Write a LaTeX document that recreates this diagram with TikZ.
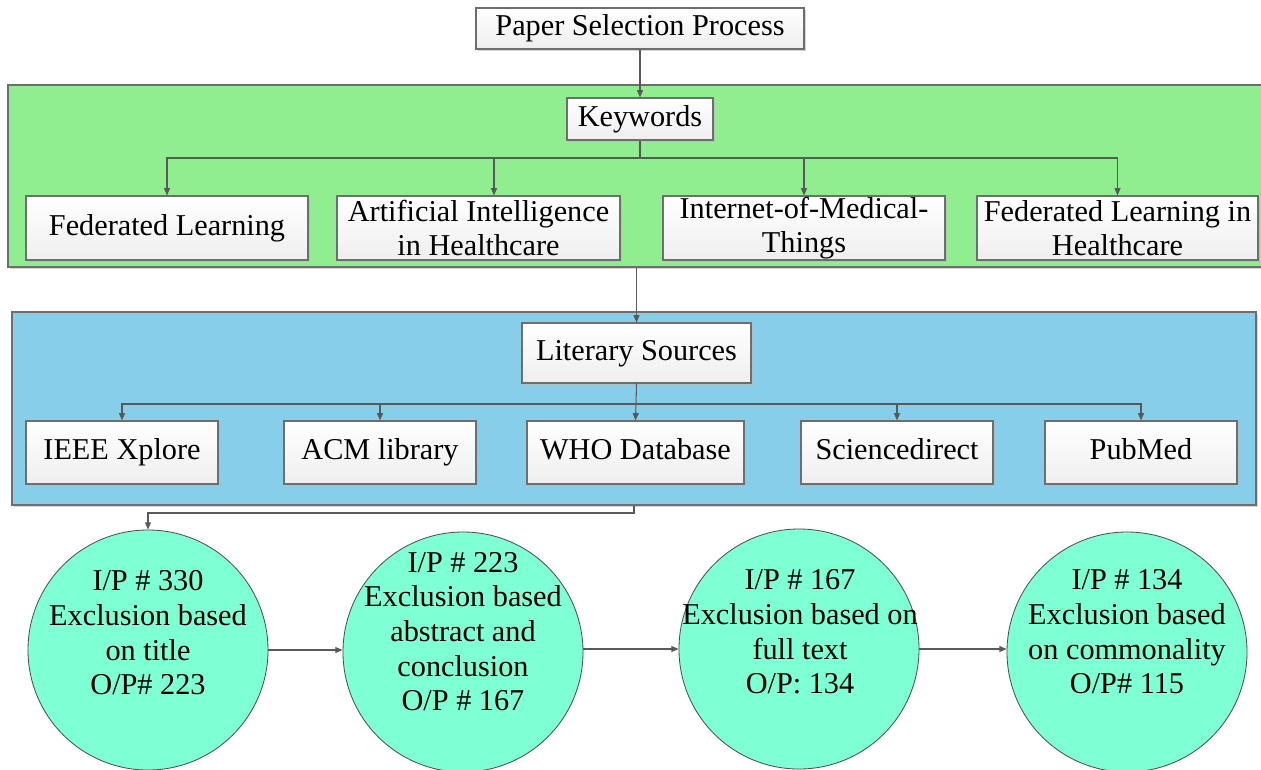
\documentclass[tikz,border=0pt]{standalone}
\usepackage{fontspec}
\setmainfont{Liberation Serif}
\usetikzlibrary{arrows.meta,shadows}
\definecolor{kwgreen}{HTML}{90EE90}
\definecolor{srcblue}{HTML}{87CEEB}
\definecolor{stagefill}{HTML}{7FFFD4}
\definecolor{edgegray}{HTML}{6E6E6E}
\definecolor{linkgray}{HTML}{595959}
\begin{document}
\begin{tikzpicture}[x=0.75pt,y=-0.75pt,
  txt/.style={font=\fontsize{22.7}{26}\selectfont, align=center, text=black},
  box/.style={txt, draw=edgegray, line width=0.8pt, top color=white, bottom color=gray!13,
    inner sep=0pt, minimum height={#1*0.75pt},
    drop shadow={shadow xshift=1.3pt, shadow yshift=-1.3pt, fill=gray!55, opacity=0.6}},
  oneline/.style={text height=15.5pt, text depth=4.5pt},
  panel/.style={draw=edgegray, line width=0.8pt, inner sep=0pt,
    drop shadow={shadow xshift=1.3pt, shadow yshift=-1.6pt, fill=gray!55, opacity=0.6}},
  stage/.style={circle, draw=black!70, line width=0.6pt, fill=stagefill, minimum size={240*0.75pt},
    inner sep=0pt, circular drop shadow={shadow xshift=0pt, shadow yshift=0pt, shadow scale=1.025, fill=gray!70, opacity=0.5}},
  link/.style={draw=linkgray, line width=0.8pt, -{Triangle[length=5.5pt,width=4.5pt]}},
  plain/.style={draw=linkgray, line width=0.8pt}]
\useasboundingbox (0,0) rectangle (1261,769);

% background panels (the green one runs off the right edge)
\node[panel, fill=kwgreen, minimum width={1300*0.75pt}, minimum height={182*0.75pt}] (kwpanel) at (658,176) {};
\node[panel, fill=srcblue, minimum width={1244*0.75pt}, minimum height={193*0.75pt}] (srcpanel) at (634,408.5) {};

% top of the process
\node[box=41, oneline, minimum width={328*0.75pt}] (title) at (640,28.5) {Paper Selection Process};
\node[box=42, oneline, minimum width={146*0.75pt}] (keys) at (640,119) {Keywords};

% keyword boxes
\node[box=64, oneline, minimum width={282*0.75pt}] (kw1) at (167,228) {Federated Learning};
\node[box=64, minimum width={283*0.75pt}] (kw2) at (478.5,228) {Artificial Intelligence\\in Healthcare};
\node[box=64, minimum width={282*0.75pt}] (kw3) at (804,228) {Internet-of-Medical-\\Things};
\node[box=64, minimum width={281*0.75pt}] (kw4) at (1117.5,228) {Federated Learning in\\Healthcare};

% literary sources
\node[box=60, oneline, minimum width={229*0.75pt}] (lit) at (636.5,353) {Literary Sources};
\node[box=63, oneline, minimum width={192*0.75pt}] (src1) at (122,452.5) {IEEE Xplore};
\node[box=63, oneline, minimum width={192*0.75pt}] (src2) at (380,452.5) {ACM library};
\node[box=63, oneline, minimum width={217*0.75pt}] (src3) at (635.5,452.5) {WHO Database};
\node[box=63, oneline, minimum width={192*0.75pt}] (src4) at (897,452.5) {Sciencedirect};
\node[box=63, oneline, minimum width={192*0.75pt}] (src5) at (1141,452.5) {PubMed};

% screening stages
\node[stage] (st1) at (148,650) {};
\node[stage] (st2) at (463,652) {};
\node[stage] (st3) at (799,649) {};
\node[stage] (st4) at (1127,652) {};
\node[txt] at (148,633) {I/P \# 330\\Exclusion based\\on title\\O/P\# 223};
\node[txt] at (463,631.5) {I/P \# 223\\Exclusion based\\abstract and\\conclusion\\O/P \# 167};
\node[txt] at (800,632) {I/P \# 167\\Exclusion based on\\full text\\O/P: 134};
\node[txt] at (1127,632) {I/P \# 134\\Exclusion based\\on commonality\\O/P\# 115};

% connectors
\draw[link] (title.south) -- (keys.north);
\coordinate (kwbus) at (640,158);
\coordinate (kwb2) at (494,158);
\draw[plain] (keys.south) -- (kwbus);
\draw[link] (kwbus) -| (kw1.north);
\draw[link] (kwbus) -- (kwb2) -- (kwb2 |- kw2.north);
\draw[link] (kwbus) -| (kw3.north);
\draw[link] (kwbus) -| (kw4.north);

\draw[link] (kwpanel.south -| lit.north) -- (lit.north);

\coordinate (srcbus) at (636,404);
\draw[plain] (lit.south |- srcbus) ++(0,-21) -- (srcbus);
\draw[link] (srcbus) -| (src1.north);
\draw[link] (srcbus) -| (src2.north);
\draw[link] (srcbus) -- (src3.north);
\draw[link] (srcbus) -| (src4.north);
\draw[link] (srcbus) -| (src5.north);

\coordinate (down) at (634,513);
\draw[link] (srcpanel.south -| down) -- (down) -| (st1.north);

\draw[link] (st1.east) -- (st1.east -| st2.west);
\draw[link] (st2.east |- st3.west) -- (st3.west);
\draw[link] (st3.east) -- (st3.east -| st4.west);
\end{tikzpicture}
\end{document}
